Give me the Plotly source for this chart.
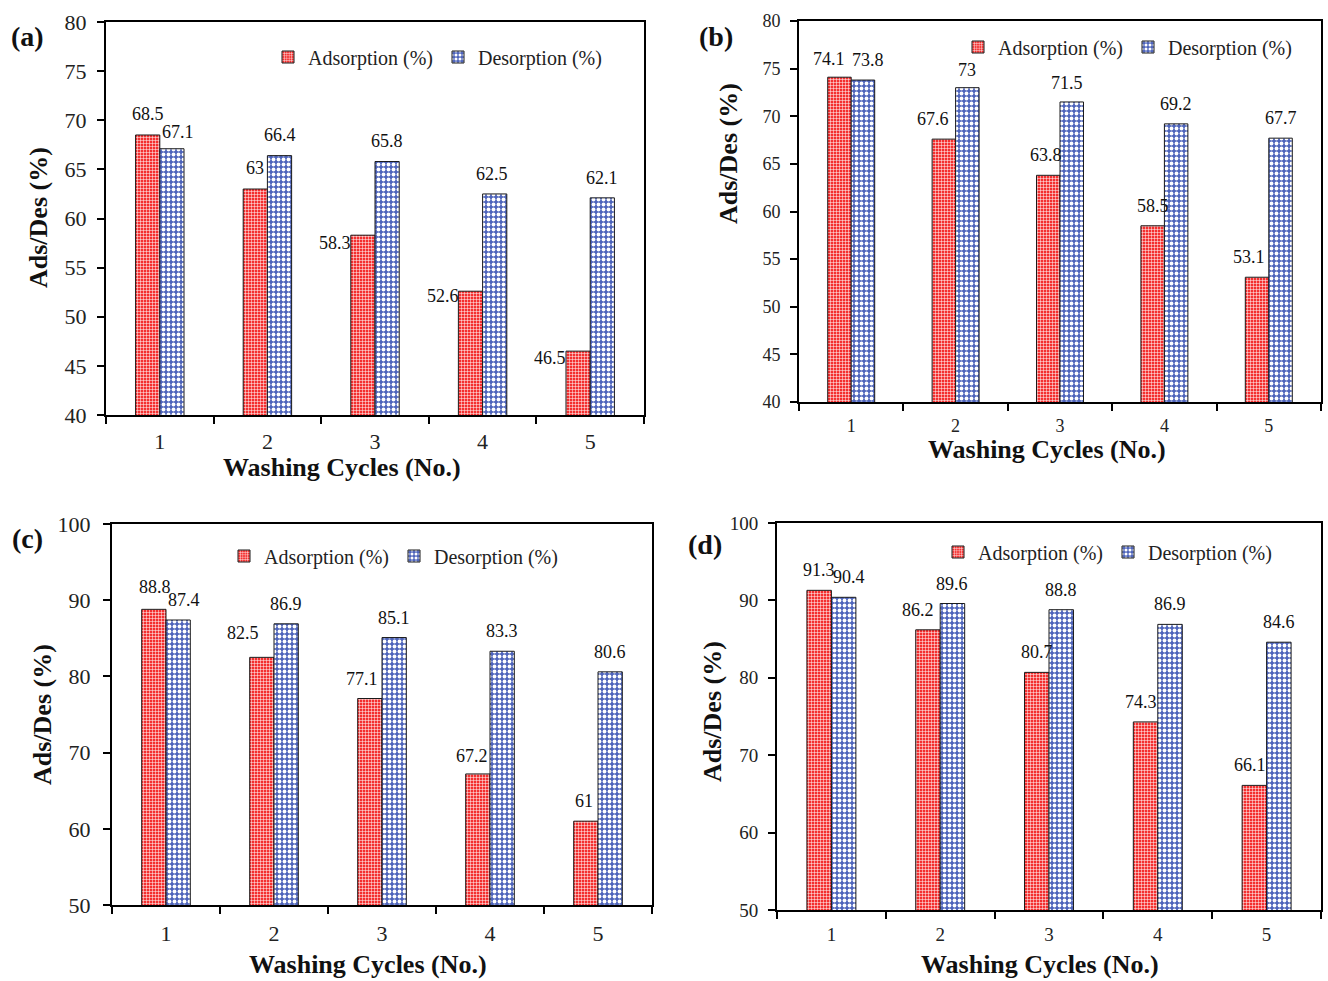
import plotly.graph_objects as go

# ---------------- data ----------------
cycles = ["1", "2", "3", "4", "5"]

ads_a = [68.5, 63, 58.3, 52.6, 46.5]
des_a = [67.1, 66.4, 65.8, 62.5, 62.1]
ads_b = [74.1, 67.6, 63.8, 58.5, 53.1]
des_b = [73.8, 73, 71.5, 69.2, 67.7]
ads_c = [88.8, 82.5, 77.1, 67.2, 61]
des_c = [87.4, 86.9, 85.1, 83.3, 80.6]
ads_d = [91.3, 86.2, 80.7, 74.3, 66.1]
des_d = [90.4, 89.6, 88.8, 86.9, 84.6]

series_names = ["Adsorption (%)", "Desorption (%)"]
panel_letters = ["(a)", "(b)", "(c)", "(d)"]
x_title = "Washing Cycles (No.)"
y_title = "Ads/Des (%)"

# ---------------- style ----------------
W, H = 1328, 981
FONT = "Liberation Serif, Times New Roman, serif"
RED = "#f42f2f"
BLUE = "#4e64bb"
BARGAP = 0.55


def px(x):
    return x / W


def py(y):
    return 1 - y / H


# label nudges (pixels): (dx, dy) of label centre relative to bar-top centre
panels = [
    dict(ads=ads_a, des=des_a, dom=(106, 644, 22, 415), yr=(40, 80), dt=5, tfs=22, tso=6,
         leg=(268, 57), letter=(27, 36), xt=(342, 467), yt=(38, 218),
         dads=[(0, 21), (0, 21), (-28, -8), (-28, -5), (-28, -7)],
         ddes=[(6, 17), (0, 21), (0, 21), (-3, 20), (0, 20)]),
    dict(ads=ads_b, des=des_b, dom=(799, 1321, 21, 402), yr=(40, 80), dt=5, tfs=18, tso=6,
         leg=(958, 47), letter=(716, 36), xt=(1047, 449), yt=(728, 154),
         dads=[(-10, 18), (-11, 20), (-2, 20), (0, 20), (-8, 20)],
         ddes=[(5, 20), (0, 18), (-5, 19), (0, 20), (0, 20)]),
    dict(ads=ads_c, des=des_c, dom=(112, 652, 524, 905), yr=(50, 100), dt=10, tfs=22, tso=8,
         leg=(224, 556), letter=(27, 538), xt=(368, 964), yt=(42, 715),
         dads=[(1, 22), (-19, 24), (-8, 20), (-6, 18), (-2, 20)],
         ddes=[(6, 20), (0, 20), (0, 20), (0, 20), (0, 20)]),
    dict(ads=ads_d, des=des_d, dom=(777, 1321, 523, 910), yr=(50, 100), dt=10, tfs=19, tso=6,
         leg=(938, 552), letter=(705, 544), xt=(1040, 964), yt=(712, 712),
         dads=[(0, 20), (-10, 20), (0, 20), (-5, 20), (-4, 20)],
         ddes=[(5, 20), (0, 20), (0, 20), (0, 20), (0, 20)]),
]

fig = go.Figure()
annotations = []
half = (1 - BARGAP) / 4.0  # offset of each bar centre from category centre

for k, p in enumerate(panels):
    sfx = "" if k == 0 else str(k + 1)
    xa, ya = "x" + sfx, "y" + sfx
    leg = "legend" if k == 0 else "legend" + str(k + 1)
    for s, (vals, col, shp, size, sol) in enumerate([
        (p["ads"], RED, "+", 3, 0.3),
        (p["des"], BLUE, ".", 5, 0.45),
    ]):
        fig.add_trace(go.Bar(
            x=cycles, y=vals, name=series_names[s], xaxis=xa, yaxis=ya,
            legend=leg, showlegend=True,
            marker=dict(color=col, line=dict(color="#1a1a1a", width=1),
                        pattern=dict(shape=shp, fgcolor="white", bgcolor=col,
                                     size=size, solidity=sol, fillmode="replace")),
        ))
        offs = p["dads"] if s == 0 else p["ddes"]
        for i, v in enumerate(vals):
            dx, dy = offs[i]
            annotations.append(dict(
                x=i + (-half if s == 0 else half), y=v, xref=xa, yref=ya,
                text=f"{v:g}", showarrow=False, xanchor="center", yanchor="middle",
                xshift=dx, yshift=dy, font=dict(family=FONT, size=18, color="#111")))

    x0, x1, y0, y1 = p["dom"]
    axis_common = dict(showline=True, linecolor="black", linewidth=2, mirror=True,
                       ticks="outside", tickcolor="black", tickwidth=2, ticklen=7,
                       showgrid=False, zeroline=False, ticklabelstandoff=p["tso"],
                       tickfont=dict(family=FONT, size=p["tfs"], color="#222"))
    xaxis = dict(axis_common, domain=[px(x0), px(x1)], anchor=ya, type="category",
                 tickson="boundaries", fixedrange=True)
    yaxis = dict(axis_common, domain=[py(y1), py(y0)], anchor=xa, range=list(p["yr"]),
                 dtick=p["dt"], tick0=0, fixedrange=True)
    fig.update_layout(**{"xaxis" + sfx: xaxis, "yaxis" + sfx: yaxis})

    fig.update_layout(**{leg: dict(
        x=px(p["leg"][0]), y=py(p["leg"][1]), xanchor="left", yanchor="middle",
        orientation="h", bgcolor="rgba(0,0,0,0)", itemwidth=30, entrywidth=125,
        font=dict(family=FONT, size=20, color="#222"), traceorder="normal")})

    common_ann = dict(xref="paper", yref="paper", showarrow=False,
                      xanchor="center", yanchor="middle")
    annotations.append(dict(common_ann, x=px(p["letter"][0]), y=py(p["letter"][1]),
                            text="<b>" + panel_letters[k] + "</b>",
                            font=dict(family=FONT, size=28, color="#111")))
    annotations.append(dict(common_ann, x=px(p["xt"][0]), y=py(p["xt"][1]),
                            text="<b>" + x_title + "</b>",
                            font=dict(family=FONT, size=26, color="#111")))
    annotations.append(dict(common_ann, x=px(p["yt"][0]), y=py(p["yt"][1]),
                            text="<b>" + y_title + "</b>", textangle=-90,
                            font=dict(family=FONT, size=26, color="#111")))

fig.update_layout(
    width=W, height=H, margin=dict(l=0, r=0, t=0, b=0, autoexpand=False),
    paper_bgcolor="white", plot_bgcolor="white",
    barmode="group", bargap=BARGAP, bargroupgap=0,
    annotations=annotations,
    font=dict(family=FONT, color="#111"),
)

fig.write_html("out.html")
